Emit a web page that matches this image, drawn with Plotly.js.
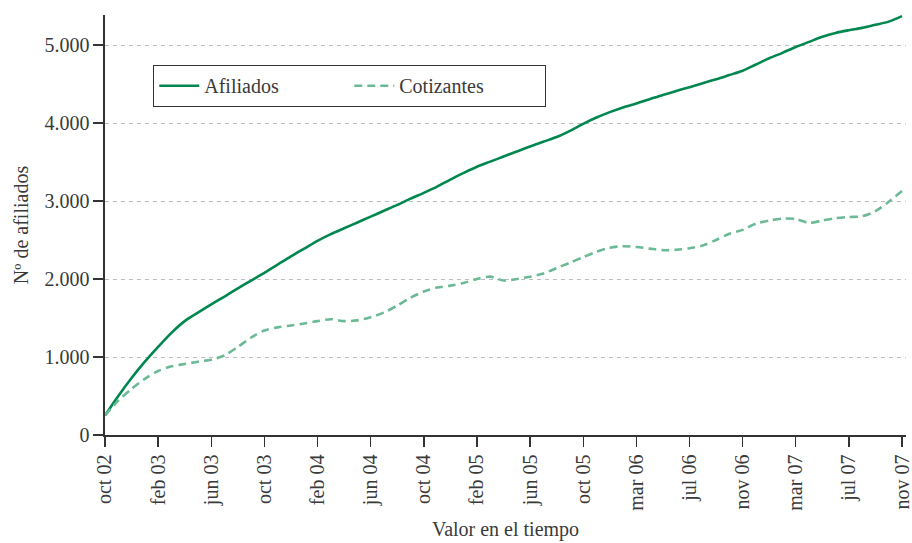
<!DOCTYPE html>
<html>
<head>
<meta charset="utf-8">
<script src="https://cdn.plot.ly/plotly-3.0.1.min.js"></script>
<style>
  html, body { margin: 0; padding: 0; background: #ffffff; }
  #chart { width: 912px; height: 543px; }
</style>
</head>
<body>
<div id="chart"></div>
<script>
// Monthly categories (one month missing between dic 05 and mar 06 in the source)
const months = [
  "oct 02","nov 02","dic 02","ene 03","feb 03","mar 03","abr 03","may 03","jun 03","jul 03",
  "ago 03","sep 03","oct 03","nov 03","dic 03","ene 04","feb 04","mar 04","abr 04","may 04",
  "jun 04","jul 04","ago 04","sep 04","oct 04","nov 04","dic 04","ene 05","feb 05","mar 05",
  "abr 05","may 05","jun 05","jul 05","ago 05","sep 05","oct 05","nov 05","dic 05","feb 06",
  "mar 06","abr 06","may 06","jun 06","jul 06","ago 06","sep 06","oct 06","nov 06","dic 06",
  "ene 07","feb 07","mar 07","abr 07","may 07","jun 07","jul 07","ago 07","sep 07","oct 07",
  "nov 07"
];

// Tick labels shown on the x axis
const tickLabels = ["oct 02","feb 03","jun 03","oct 03","feb 04","jun 04","oct 04","feb 05",
                    "jun 05","oct 05","mar 06","jul 06","nov 06","mar 07","jul 07","nov 07"];

// Afiliados (solid line)
const afiliados = [
  250, 500, 730, 940, 1130, 1310, 1460, 1570, 1675, 1775,
  1880, 1980, 2080, 2185, 2290, 2390, 2490, 2575, 2650, 2725,
  2800, 2875, 2950, 3030, 3105, 3185, 3275, 3360, 3440, 3505,
  3570, 3635, 3700, 3760, 3820, 3900, 3990, 4070, 4140, 4200,
  4250, 4305, 4360, 4410, 4460, 4510, 4560, 4615, 4670, 4750,
  4830, 4900, 4975, 5040, 5105, 5155, 5190, 5220, 5260, 5300,
  5370
];

// Cotizantes (dashed line)
const cotizantes = [
  250, 440, 590, 720, 820, 880, 910, 940, 965, 1020,
  1130, 1250, 1340, 1380, 1405, 1430, 1460, 1485, 1460, 1470,
  1510, 1570, 1660, 1760, 1840, 1890, 1915, 1950, 2000, 2030,
  1980, 2000, 2030, 2070, 2140, 2210, 2280, 2350, 2400, 2420,
  2410, 2390, 2370, 2375, 2395, 2430, 2500, 2580, 2630, 2710,
  2750, 2775, 2770, 2720, 2750, 2780, 2795, 2805, 2870, 2990,
  3130
];

const yTicks = [0, 1000, 2000, 3000, 4000, 5000];

const fontFam = "Liberation Serif, DejaVu Serif, serif";
const textColor = "#3a3a3a";

const traces = [
  {
    x: months, y: afiliados, type: "scatter", mode: "lines", name: "Afiliados",
    line: { color: "#00874f", width: 2.6, shape: "spline", smoothing: 0.8 }
  },
  {
    x: months, y: cotizantes, type: "scatter", mode: "lines", name: "Cotizantes",
    line: { color: "#6cb996", width: 2.6, shape: "spline", smoothing: 0.8, dash: "8px,5px" }
  }
];

const layout = {
  width: 912, height: 543,
  margin: { l: 105, r: 6, t: 15, b: 108 },
  paper_bgcolor: "#ffffff", plot_bgcolor: "#ffffff",
  separators: ",.",
  font: { family: fontFam, size: 20, color: textColor },
  showlegend: true,
  legend: {
    orientation: "h",
    x: 0.06, y: 0.881, xanchor: "left", yanchor: "top",
    bordercolor: "#333333", borderwidth: 1.2, bgcolor: "#ffffff",
    font: { family: fontFam, size: 20, color: textColor },
    itemwidth: 40, entrywidth: 140, entrywidthmode: "pixels",
    traceorder: "normal"
  },
  xaxis: {
    type: "category",
    range: [0, 60.3],
    tickmode: "array", tickvals: tickLabels, ticktext: tickLabels,
    tickangle: -90,
    ticks: "outside", ticklen: 10, tickwidth: 1.4, tickcolor: "#333333",
    showline: true, linecolor: "#333333", linewidth: 1.6,
    showgrid: false, zeroline: false,
    tickfont: { family: fontFam, size: 20, color: textColor },
    title: { text: "Valor en el tiempo", font: { family: fontFam, size: 20, color: textColor }, standoff: 12 }
  },
  yaxis: {
    range: [0, 5385],
    tickmode: "array", tickvals: yTicks,
    tickformat: ",d",
    ticks: "outside", ticklen: 10, tickwidth: 1.4, tickcolor: "#333333",
    showline: true, linecolor: "#333333", linewidth: 1.6,
    showgrid: true, gridcolor: "#bdbdbd", gridwidth: 1, griddash: "4px,4px",
    zeroline: false,
    tickfont: { family: fontFam, size: 20, color: textColor },
    title: { text: "Nº de afiliados", font: { family: fontFam, size: 20, color: textColor }, standoff: 10 }
  }
};

Plotly.newPlot("chart", traces, layout, { displayModeBar: false, staticPlot: true });
</script>
</body>
</html>
